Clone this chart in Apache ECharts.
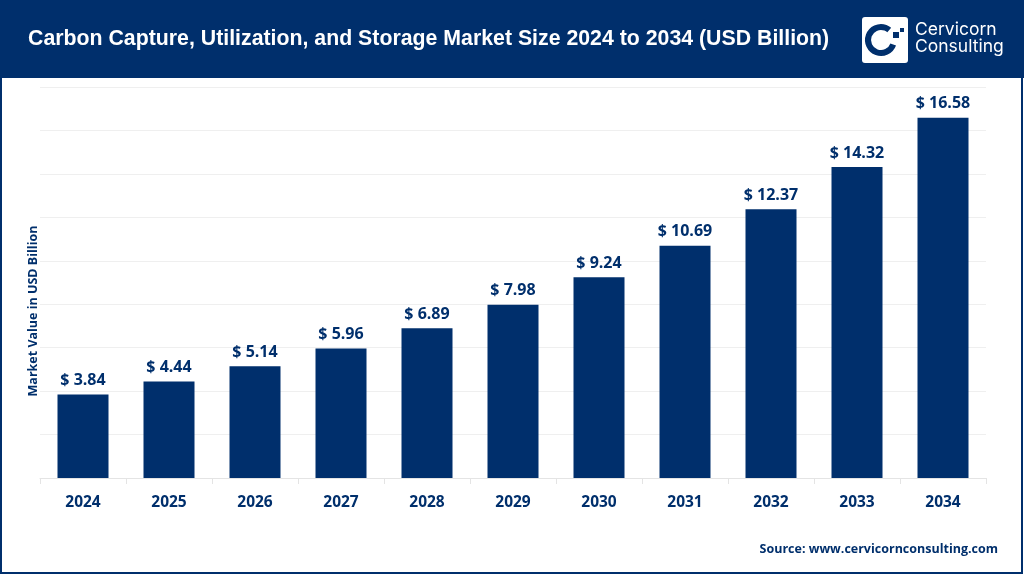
<!DOCTYPE html>
<html>
<head>
<meta charset="utf-8">
<style>
html,body{margin:0;padding:0;background:#fff;}
#main{width:1024px;height:576px;}
</style>
<script src="https://cdn.jsdelivr.net/npm/echarts@6/dist/echarts.min.js"></script>
</head>
<body>
<div id="main"></div>
<script>
var years = ['2024','2025','2026','2027','2028','2029','2030','2031','2032','2033','2034'];
var marketSize = [3.84,4.44,5.14,5.96,6.89,7.98,9.24,10.69,12.37,14.32,16.58];
var navy = '#002F6C';
var labelFont = '"Open Sans","Noto Sans",sans-serif';

var myChart = echarts.init(document.getElementById('main'));
var option = {
  animation: false,
  grid: {left: 40, right: 38, top: 87, bottom: 98},
  xAxis: {
    type: 'category',
    data: years,
    axisLine: {lineStyle: {color: '#E4E4E4', width: 1}},
    axisTick: {show: true, length: 6, alignWithLabel: false, lineStyle: {color: '#E4E4E4'}},
    axisLabel: {color: navy, fontFamily: labelFont, fontWeight: 'bold', fontSize: 15.5, margin: 17}
  },
  yAxis: {
    type: 'value',
    min: 0,
    max: 18,
    interval: 2,
    axisLine: {show: false},
    axisTick: {show: false},
    axisLabel: {show: false},
    splitLine: {lineStyle: {color: '#EFEFEF', width: 1}}
  },
  series: [{
    type: 'bar',
    data: marketSize,
    barWidth: 51,
    itemStyle: {color: navy},
    label: {
      show: true,
      position: 'top',
      distance: 6,
      color: navy,
      fontFamily: labelFont,
      fontWeight: 'bold',
      fontSize: 16,
      formatter: function (p) { return '$ ' + p.value.toFixed(2); }
    }
  }],
  graphic: [
    // 顶部标题栏
    {type: 'rect', z: 0, shape: {x: 0, y: 0, width: 1024, height: 78}, style: {fill: navy}},
    {type: 'text', z: 5, style: {x: 28, y: 39, text: 'Carbon Capture, Utilization, and Storage Market Size 2024 to 2034 (USD Billion)',
      fill: '#fff', font: 'bold 21.3px "Liberation Sans",Arial,sans-serif', textVerticalAlign: 'middle'}},
    // logo
    {type: 'rect', z: 5, shape: {x: 862, y: 17, width: 46, height: 46, r: 3}, style: {fill: '#fff'}},
    {type: 'arc', z: 6, shape: {cx: 881, cy: 40, r: 13, startAngle: 0.35, endAngle: 5.4}, style: {stroke: navy, lineWidth: 6, fill: null}},
    {type: 'rect', z: 6, shape: {x: 893, y: 32, width: 6, height: 6}, style: {fill: navy}},
    {type: 'rect', z: 6, shape: {x: 900, y: 28, width: 4, height: 4}, style: {fill: navy}},
    {type: 'text', z: 5, style: {x: 915, y: 30, text: 'Cervicorn', fill: '#fff', font: '17.5px "Inter","Liberation Sans",sans-serif', textVerticalAlign: 'middle'}},
    {type: 'text', z: 5, style: {x: 915, y: 47, text: 'Consulting', fill: '#fff', font: '17.5px "Inter","Liberation Sans",sans-serif', textVerticalAlign: 'middle'}},
    // y轴标题
    {type: 'text', z: 5, x: 33, y: 311, rotation: Math.PI / 2, style: {x: 0, y: 0, text: 'Market Value in USD Billion', fill: navy,
      font: 'bold 12.5px "Open Sans","Noto Sans",sans-serif', textAlign: 'center', textVerticalAlign: 'middle'}},
    // 来源
    {type: 'text', z: 5, style: {x: 998, y: 549, text: 'Source: www.cervicornconsulting.com', fill: navy,
      font: 'bold 12.5px "Open Sans","Noto Sans",sans-serif', textAlign: 'right', textVerticalAlign: 'middle'}},
    // 外框
    {type: 'rect', z: 10, shape: {x: 1, y: 1, width: 1021, height: 572}, style: {fill: null, stroke: navy, lineWidth: 2}}
  ]
};
myChart.setOption(option);
</script>
</body>
</html>
